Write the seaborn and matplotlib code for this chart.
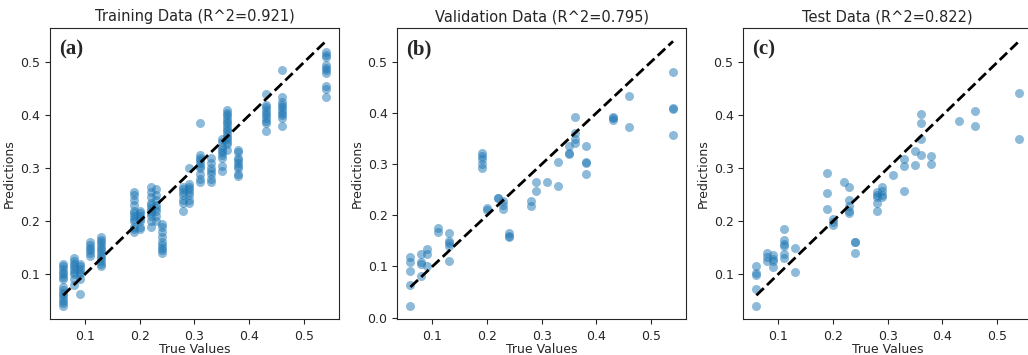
import matplotlib.pyplot as plt
import numpy as np
import pandas as pd
import seaborn as sns

# true value levels and the predictions
TRAIN = {
    0.06: [0.04, 0.045, 0.05, 0.055, 0.06, 0.065, 0.07, 0.075, 0.09, 0.095, 0.10, 0.105, 0.11, 0.115, 0.12],
    0.08: [0.08, 0.09, 0.10, 0.105, 0.11, 0.115, 0.12, 0.125, 0.13],
    0.09: [0.063, 0.09, 0.10, 0.105, 0.11, 0.115, 0.12],
    0.11: [0.135, 0.14, 0.145, 0.15, 0.155, 0.16],
    0.13: [0.115, 0.12, 0.125, 0.13, 0.135, 0.14, 0.145, 0.15, 0.155, 0.16, 0.165, 0.17],
    0.19: [0.18, 0.185, 0.19, 0.20, 0.205, 0.21, 0.215, 0.22, 0.23, 0.24, 0.25, 0.255],
    0.20: [0.185, 0.19, 0.20, 0.205, 0.21, 0.215, 0.22],
    0.22: [0.19, 0.20, 0.21, 0.215, 0.22, 0.225, 0.23, 0.235, 0.245, 0.255, 0.265],
    0.23: [0.20, 0.21, 0.22, 0.225, 0.23, 0.24, 0.25, 0.26],
    0.24: [0.14, 0.145, 0.15, 0.155, 0.16, 0.17, 0.18, 0.19, 0.195],
    0.28: [0.22, 0.235, 0.24, 0.25, 0.255, 0.26, 0.265],
    0.29: [0.235, 0.24, 0.25, 0.255, 0.26, 0.265, 0.27, 0.30],
    0.31: [0.275, 0.28, 0.29, 0.30, 0.305, 0.31, 0.315, 0.32, 0.325, 0.385],
    0.33: [0.275, 0.28, 0.29, 0.295, 0.30, 0.31, 0.32],
    0.35: [0.295, 0.305, 0.32, 0.325, 0.33, 0.335, 0.34, 0.35, 0.355],
    0.36: [0.335, 0.345, 0.35, 0.355, 0.36, 0.365, 0.37, 0.375, 0.38, 0.385, 0.39, 0.395, 0.40, 0.405, 0.41],
    0.38: [0.285, 0.29, 0.30, 0.305, 0.31, 0.315, 0.32, 0.33, 0.335],
    0.43: [0.37, 0.385, 0.39, 0.395, 0.40, 0.405, 0.41, 0.415, 0.42, 0.44],
    0.46: [0.38, 0.395, 0.40, 0.405, 0.41, 0.415, 0.42, 0.425, 0.435, 0.485],
    0.54: [0.435, 0.45, 0.455, 0.48, 0.485, 0.49, 0.495, 0.51, 0.515, 0.52],
}

VALID = {
    0.06: [0.023, 0.063, 0.092, 0.108, 0.118],
    0.08: [0.082, 0.104, 0.108, 0.124],
    0.09: [0.10, 0.125, 0.134],
    0.11: [0.167, 0.175],
    0.13: [0.11, 0.14, 0.145, 0.15, 0.166],
    0.19: [0.293, 0.30, 0.31, 0.315, 0.322],
    0.20: [0.21, 0.215],
    0.22: [0.233, 0.234],
    0.23: [0.212, 0.22, 0.228],
    0.24: [0.158, 0.16, 0.165],
    0.28: [0.219, 0.227],
    0.29: [0.248, 0.265],
    0.31: [0.266],
    0.33: [0.258, 0.305],
    0.35: [0.32, 0.322, 0.335],
    0.36: [0.342, 0.35, 0.36, 0.392],
    0.38: [0.281, 0.303, 0.305, 0.335],
    0.43: [0.386, 0.39, 0.393],
    0.46: [0.372, 0.433],
    0.54: [0.357, 0.407, 0.41, 0.48],
}

TEST = {
    0.06: [0.04, 0.072, 0.098, 0.103, 0.115],
    0.08: [0.125, 0.132, 0.14],
    0.09: [0.113, 0.125, 0.128, 0.137],
    0.11: [0.13, 0.138, 0.153, 0.157, 0.165, 0.185],
    0.13: [0.105, 0.15],
    0.19: [0.224, 0.254, 0.292],
    0.20: [0.193, 0.198, 0.205],
    0.22: [0.275],
    0.23: [0.215, 0.22, 0.228, 0.24, 0.265],
    0.24: [0.14, 0.16, 0.161],
    0.28: [0.22, 0.235, 0.245, 0.25, 0.255],
    0.29: [0.245, 0.25, 0.258, 0.265],
    0.31: [0.287],
    0.33: [0.258, 0.305, 0.318],
    0.35: [0.306, 0.332],
    0.36: [0.325, 0.355, 0.385, 0.402],
    0.38: [0.308, 0.323],
    0.43: [0.39],
    0.46: [0.38, 0.408],
    0.54: [0.355, 0.443],
}

TITLES = ['Training Data (R^2=0.921)', 'Validation Data (R^2=0.795)', 'Test Data (R^2=0.822)']
LABELS = ['(a)', '(b)', '(c)']


def to_frame(d):
    rows = [(t, p) for t, preds in d.items() for p in preds]
    return pd.DataFrame(rows, columns=['true', 'pred'])


sns.set_style('ticks')
plt.rcParams['font.family'] = ['DejaVu Sans']

fig = plt.figure(figsize=(10.28, 3.55), dpi=100)
lefts = [0.0486, 0.3865, 0.723]

for i, d in enumerate([TRAIN, VALID, TEST]):
    ax = fig.add_axes([lefts[i], 0.101, 0.281, 0.820])
    df = to_frame(d)
    sns.scatterplot(data=df, x='true', y='pred', ax=ax, color='#1f77b4',
                    alpha=0.5, s=42, linewidth=0)
    lo, hi = df['true'].min(), df['true'].max()
    ax.plot([lo, hi], [lo, hi], 'k--', lw=2)
    ax.set_title(TITLES[i], fontsize=10.5, pad=5)
    ax.set_xlabel('True Values', fontsize=9, labelpad=0)
    ax.set_ylabel('Predictions', fontsize=9, labelpad=3)
    ax.tick_params(labelsize=9)
    ax.tick_params(axis='x', pad=4)
    ax.text(0.03, 0.96, LABELS[i], transform=ax.transAxes, ha='left', va='top',
            fontsize=15, fontweight='bold', family=['Liberation Serif'])
    for sp in ax.spines.values():
        sp.set_visible(True)

fig.savefig('out.png', dpi=100)
